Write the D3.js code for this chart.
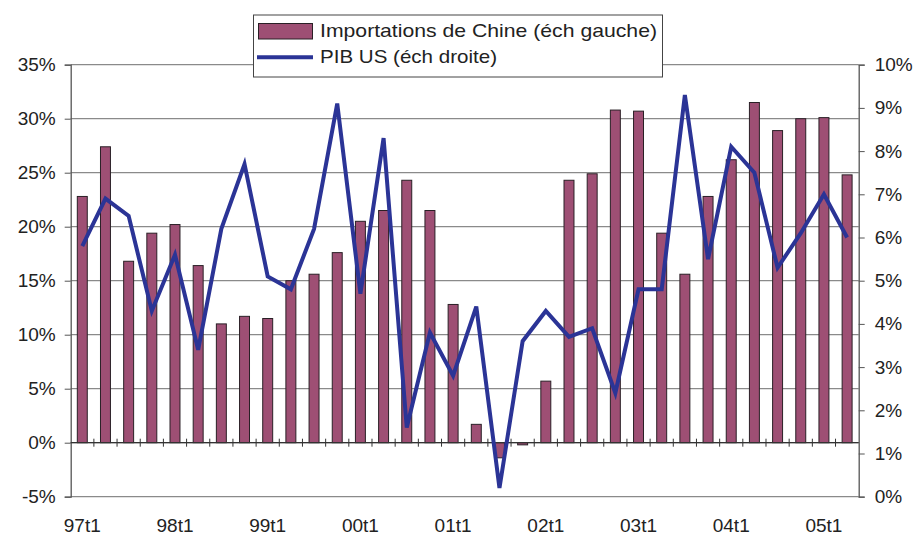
<!DOCTYPE html>
<html>
<head>
<meta charset="utf-8">
<script src="https://cdn.jsdelivr.net/npm/d3@7"></script>
<style>
  body { margin: 0; background: #fff; }
  text { font-family: "Liberation Sans", Arial, sans-serif; fill: #222; }
</style>
</head>
<body>
<svg id="chart" width="919" height="536"></svg>
<script>
// quarters 97t1 .. 05t2
var quarters = [];
for (var yr = 97; yr <= 105; yr++) {
    for (var q = 1; q <= 4; q++) {
        var lab = String(yr % 100).padStart(2, "0") + "t" + q;
        quarters.push(lab);
    }
}
quarters = quarters.slice(0, 34);

// Importations de Chine (%) - left scale
var imports = [22.8, 27.4, 16.8, 19.4, 20.2, 16.4, 11.0, 11.7, 11.5, 15.0,
               15.6, 17.6, 20.5, 21.5, 24.3, 21.5, 12.8, 1.7, -1.4, -0.2,
               5.7, 24.3, 24.9, 30.8, 30.7, 19.4, 15.6, 22.8, 26.2, 31.5,
               28.9, 30.0, 30.1, 24.8];

// PIB US (%) - right scale
var gdp = [5.8, 6.9, 6.5, 4.3, 5.6, 3.4, 6.2, 7.7, 5.1, 4.8,
           6.2, 9.1, 4.7, 8.3, 1.6, 3.8, 2.8, 4.4, 0.2, 3.6,
           4.3, 3.7, 3.9, 2.4, 4.8, 4.8, 9.3, 5.5, 8.1, 7.5,
           5.3, 6.1, 7.0, 6.0];

var leftTicks = [-5, 0, 5, 10, 15, 20, 25, 30, 35];
var rightTicks = [0, 1, 2, 3, 4, 5, 6, 7, 8, 9, 10];
var xLabels = ["97t1", "98t1", "99t1", "00t1", "01t1", "02t1", "03t1", "04t1", "05t1"];

var svg = d3.select("#chart");
var plot = { left: 70.7, right: 858.7, top: 64.7, bottom: 496.7 };

var x = d3.scaleBand().domain(quarters).range([plot.left, plot.right]).padding(0);
var yL = d3.scaleLinear().domain([-5, 35]).range([plot.bottom, plot.top]);
var yR = d3.scaleLinear().domain([0, 10]).range([plot.bottom, plot.top]);

//gridlines
svg.append("g")
    .selectAll("line")
    .data(leftTicks)
    .enter()
    .append("line")
    .attr("x1", plot.left)
    .attr("x2", plot.right)
    .attr("y1", d => yL(d))
    .attr("y2", d => yL(d))
    .style("stroke", "#8a8a8a")
    .style("stroke-width", 1.2);

//bars
var barW = x.bandwidth() * 0.43;
svg.append("g")
    .selectAll("rect")
    .data(imports)
    .enter()
    .append("rect")
    .attr("x", (d, i) => x(quarters[i]) + x.bandwidth() / 2 - barW / 2)
    .attr("y", d => yL(Math.max(d, 0)))
    .attr("width", barW)
    .attr("height", d => Math.abs(yL(d) - yL(0)))
    .style("fill", "#9E4F74")
    .style("stroke", "#2a2026")
    .style("stroke-width", 1);

//left axis
var leftAxis = d3.axisLeft(yL).tickValues(leftTicks).tickSize(6).tickPadding(9)
    .tickFormat(d => d + "%");
var gL = svg.append("g")
    .attr("transform", "translate(" + plot.left + ",0)")
    .call(leftAxis);
gL.select(".domain").style("stroke", "#555").style("stroke-width", 1.3);
gL.selectAll(".tick line").style("stroke", "#555");
gL.selectAll("text").style("font-size", "19px").style("fill", "#222");

//right axis
var rightAxis = d3.axisRight(yR).tickValues(rightTicks).tickSize(6).tickPadding(10)
    .tickFormat(d => d + "%");
var gR = svg.append("g")
    .attr("transform", "translate(" + plot.right + ",0)")
    .call(rightAxis);
gR.select(".domain").style("stroke", "#555").style("stroke-width", 1.3);
gR.selectAll(".tick line").style("stroke", "#555");
gR.selectAll("text").style("font-size", "19px").style("fill", "#222");

//category axis on the 0% line
var zeroY = yL(0);
svg.append("line")
    .attr("x1", plot.left).attr("x2", plot.right)
    .attr("y1", zeroY).attr("y2", zeroY)
    .style("stroke", "#333").style("stroke-width", 1.3);
svg.append("g")
    .selectAll("line")
    .data(quarters.slice(1))
    .enter()
    .append("line")
    .attr("x1", d => x(d)).attr("x2", d => x(d))
    .attr("y1", zeroY - 4).attr("y2", zeroY + 4)
    .style("stroke", "#333").style("stroke-width", 1);

svg.append("g")
    .selectAll("text")
    .data(xLabels)
    .enter()
    .append("text")
    .attr("x", d => x(d) + x.bandwidth() / 2)
    .attr("y", 532)
    .attr("text-anchor", "middle")
    .style("font-size", "19px")
    .text(d => d);

//line
var line = d3.line()
    .x((d, i) => x(quarters[i]) + x.bandwidth() / 2)
    .y(d => yR(d));
svg.append("path")
    .datum(gdp)
    .attr("d", line)
    .style("fill", "none")
    .style("stroke", "#2B3496")
    .style("stroke-width", 4)
    .style("stroke-linejoin", "miter");

//legend
var legend = svg.append("g").attr("class", "legend");
legend.append("rect")
    .attr("x", 253.5).attr("y", 15)
    .attr("width", 409).attr("height", 62)
    .style("fill", "#fff")
    .style("stroke", "#444")
    .style("stroke-width", 1);
legend.append("rect")
    .attr("x", 258.5).attr("y", 23.5)
    .attr("width", 54).attr("height", 15.5)
    .style("fill", "#9E4F74")
    .style("stroke", "#2a2026");
legend.append("line")
    .attr("x1", 257).attr("x2", 313)
    .attr("y1", 57.3).attr("y2", 57.3)
    .style("stroke", "#2B3496")
    .style("stroke-width", 4);
legend.append("text")
    .attr("x", 320).attr("y", 37)
    .attr("textLength", 337)
    .attr("lengthAdjust", "spacingAndGlyphs")
    .style("font-size", "19px")
    .text("Importations de Chine (éch gauche)");
legend.append("text")
    .attr("x", 320).attr("y", 63)
    .attr("textLength", 177)
    .attr("lengthAdjust", "spacingAndGlyphs")
    .style("font-size", "19px")
    .text("PIB US (éch droite)");
</script>
</body>
</html>
